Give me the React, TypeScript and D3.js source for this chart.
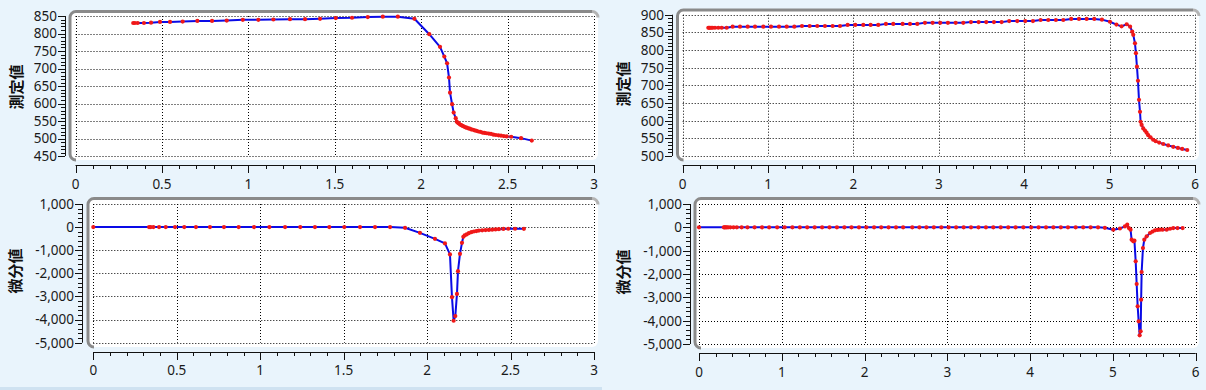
import * as d3 from 'd3'

type Pt = [number, number]

// 左側 測定値
const leftMeas: Pt[] = [
  [0.334, 830], [0.344, 830], [0.360, 830], [0.396, 830], [0.437, 831],
  [0.489, 833], [0.547, 833], [0.620, 834], [0.705, 836], [0.790, 836],
  [0.875, 837], [0.968, 839], [1.058, 839], [1.145, 840], [1.241, 841],
  [1.328, 841], [1.415, 842], [1.506, 844], [1.600, 845], [1.691, 847],
  [1.778, 848], [1.865, 848], [1.961, 842], [2.047, 798], [2.109, 762],
  [2.134, 734], [2.150, 715], [2.161, 674], [2.167, 631], [2.179, 598],
  [2.188, 574], [2.200, 558], [2.206, 548], [2.212, 545], [2.218, 543],
  [2.225, 540], [2.232, 538], [2.240, 536], [2.248, 534], [2.256, 532],
  [2.264, 531], [2.272, 529], [2.281, 528], [2.290, 526], [2.300, 525],
  [2.310, 523], [2.320, 522], [2.331, 520], [2.342, 519], [2.354, 517],
  [2.366, 516], [2.378, 515], [2.391, 514], [2.404, 513], [2.418, 511],
  [2.432, 510], [2.447, 509], [2.462, 508], [2.478, 507], [2.495, 506],
  [2.521, 505], [2.578, 501], [2.640, 494],
]

// 左側 微分値
const leftDiff: Pt[] = [
  [0, 0], [0.334, 0], [0.344, 0], [0.360, 0], [0.394, 0], [0.434, 0],
  [0.490, 0], [0.545, 0], [0.615, 0], [0.699, 0], [0.783, 0], [0.871, 0],
  [0.963, 0], [1.055, 0], [1.149, 0], [1.240, 0], [1.328, 0], [1.414, 0],
  [1.504, 0], [1.598, 0], [1.688, 0], [1.778, 0], [1.868, -30], [1.957, -247],
  [2.047, -506], [2.107, -706], [2.137, -1182], [2.149, -3030], [2.159, -4050],
  [2.169, -3850], [2.179, -2890], [2.185, -1905], [2.197, -1156], [2.209, -680],
  [2.217, -420], [2.225, -360], [2.237, -316], [2.250, -260], [2.265, -220],
  [2.280, -190], [2.295, -170], [2.310, -150], [2.330, -140], [2.350, -130],
  [2.370, -120], [2.390, -110], [2.410, -100], [2.430, -90], [2.457, -80],
  [2.486, -70], [2.527, -70], [2.580, -74],
]

// 右側 測定値
const rightMeas: Pt[] = [
  [0.300, 863], [0.310, 863], [0.320, 863], [0.335, 863], [0.351, 863],
  [0.378, 863], [0.417, 863], [0.457, 863], [0.515, 863], [0.585, 866],
  [0.671, 866], [0.761, 866], [0.847, 866], [0.944, 866], [1.034, 866],
  [1.128, 866], [1.218, 866], [1.307, 866], [1.397, 868], [1.487, 868],
  [1.576, 868], [1.666, 868], [1.756, 868], [1.842, 868], [1.932, 871],
  [2.021, 871], [2.115, 871], [2.201, 871], [2.290, 871], [2.380, 874],
  [2.466, 874], [2.576, 874], [2.662, 874], [2.747, 874], [2.837, 877],
  [2.927, 877], [3.016, 877], [3.106, 877], [3.197, 877], [3.286, 877],
  [3.376, 879], [3.466, 879], [3.555, 879], [3.645, 879], [3.735, 879],
  [3.824, 882], [3.918, 882], [4.012, 882], [4.102, 882], [4.192, 885],
  [4.281, 885], [4.371, 885], [4.457, 885], [4.550, 888], [4.641, 888],
  [4.731, 888], [4.820, 888], [4.910, 886], [5.004, 880], [5.080, 872],
  [5.140, 867], [5.200, 873], [5.240, 866], [5.265, 852], [5.277, 843],
  [5.297, 819], [5.308, 791], [5.320, 753], [5.332, 713], [5.344, 659],
  [5.356, 625], [5.363, 597], [5.375, 588], [5.394, 578], [5.414, 572],
  [5.433, 566], [5.452, 559], [5.479, 553], [5.510, 546], [5.540, 542],
  [5.580, 538], [5.628, 534], [5.686, 530], [5.745, 526], [5.800, 523],
  [5.850, 520], [5.909, 517],
]

// 右側 微分値
const rightDiff: Pt[] = [
  [0, 0], [0.300, 0], [0.310, 0], [0.320, 0], [0.335, 0], [0.351, 0],
  [0.378, 0], [0.417, 0], [0.457, 0], [0.515, 0], [0.585, 0], [0.671, 0],
  [0.761, 0], [0.847, 0], [0.944, 0], [1.034, 0], [1.128, 0], [1.218, 0],
  [1.307, 0], [1.397, 0], [1.487, 0], [1.576, 0], [1.666, 0], [1.756, 0],
  [1.842, 0], [1.932, 0], [2.021, 0], [2.115, 0], [2.201, 0], [2.290, 0],
  [2.380, 0], [2.466, 0], [2.576, 0], [2.662, 0], [2.747, 0], [2.837, 0],
  [2.927, 0], [3.016, 0], [3.106, 0], [3.197, 0], [3.286, 0], [3.376, 0],
  [3.466, 0], [3.555, 0], [3.645, 0], [3.735, 0], [3.824, 0], [3.918, 0],
  [4.012, 0], [4.102, 0], [4.192, 0], [4.281, 0], [4.371, 0], [4.457, 0],
  [4.550, 0], [4.641, 0], [4.731, 0], [4.820, 0], [4.903, -20], [5.004, -100],
  [5.085, -50], [5.145, 40], [5.173, 115], [5.193, -30], [5.213, -100],
  [5.226, -530], [5.246, -600], [5.260, -570], [5.275, -1457], [5.287, -2428],
  [5.299, -3386], [5.311, -4030], [5.323, -4630], [5.335, -4457], [5.341, -3100],
  [5.347, -1914], [5.363, -886], [5.379, -530], [5.408, -386], [5.448, -243],
  [5.478, -180], [5.508, -130], [5.540, -110], [5.568, -100], [5.600, -100],
  [5.649, -100], [5.690, -60], [5.729, -30], [5.780, -30], [5.842, -30],
]

// 目盛
const xTicks3 = [0, 0.5, 1, 1.5, 2, 2.5, 3]
const xTicks6 = [0, 1, 2, 3, 4, 5, 6]
const yTicksLeftMeas = [450, 500, 550, 600, 650, 700, 750, 800, 850]
const yTicksRightMeas = [500, 550, 600, 650, 700, 750, 800, 850, 900]
const yTicksDiff = [-5000, -4000, -3000, -2000, -1000, 0, 1000]

const titleMeas = '測定値'
const titleDiff = '微分値'

const numFmt = d3
  .formatLocale({ decimal: '.', thousands: ',', grouping: [3], currency: ['', ''], minus: '-' })
  .format(',')

const TICK_FONT = '"Noto Sans", "Open Sans", sans-serif'
const CJK_FONT = '"Noto Sans CJK JP", "Noto Sans CJK SC", sans-serif'

interface Frame { x0: number; y0: number; x1: number; y1: number }

interface PanelProps {
  data: Pt[]
  xDomain: [number, number]
  xRange: [number, number]
  yDomain: [number, number]
  yRange: [number, number]
  xTicks: number[]
  xMinor: number
  yTicks: number[]
  yMinor: number
  frame: Frame
  yAxisX: number
  xAxisY: number
  xLabelY: number
  title: string
  titleX: number
  titleY: number
}

const minorTicks = (domain: [number, number], step: number) => {
  const n = Math.round((domain[1] - domain[0]) / step)
  return d3.range(n + 1).map(i => domain[0] + i * step)
}

const Panel = (p: PanelProps) => {
  const x = d3.scaleLinear().domain(p.xDomain).range(p.xRange)
  const y = d3.scaleLinear().domain(p.yDomain).range(p.yRange)
  const line = d3.line<Pt>().x(d => x(d[0])).y(d => y(d[1]))
  const { x0, y0, x1, y1 } = p.frame
  const r = 6
  // left + top bevel of the plot frame
  const border = `M${x0 + r},${y1} A${r},${r} 0 0 1 ${x0},${y1 - r} L${x0},${y0 + r} A${r},${r} 0 0 1 ${x0 + r},${y0} L${x1 - r},${y0}`
  const corner = `M${x1 - r},${y0} A${r},${r} 0 0 1 ${x1},${y0 + r}`
  const yTop = y(p.yDomain[1])
  const yBot = y(p.yDomain[0])
  const xL = x(p.xDomain[0])
  const xR = x(p.xDomain[1])

  return (
    <g>
      <rect x={x0} y={y0} width={x1 - x0} height={y1 - y0} rx={r} fill="#ffffff" />
      {/* grid */}
      <g stroke="#000" strokeWidth={1} strokeDasharray="1 2" fill="none">
        {p.xTicks.map(t => (
          <line key={'gx' + t} x1={Math.round(x(t)) + 0.5} x2={Math.round(x(t)) + 0.5} y1={yTop} y2={yBot} />
        ))}
        {p.yTicks.map(t => (
          <line key={'gy' + t} x1={xL} x2={xR} y1={Math.round(y(t)) + 0.5} y2={Math.round(y(t)) + 0.5} />
        ))}
      </g>
      <path d={border} fill="none" stroke="#8a8a8a" strokeWidth={3} />
      <path d={corner} fill="none" stroke="#b4b4b4" strokeWidth={3} />
      {/* series */}
      <path d={line(p.data) || ''} fill="none" stroke="#0a0ae6" strokeWidth={2} strokeLinejoin="round" />
      <g fill="#f01818">
        {p.data.map((d, i) => (
          <circle key={i} cx={x(d[0])} cy={y(d[1])} r={2.1} />
        ))}
      </g>
      {/* x axis */}
      <g stroke="#111" strokeWidth={1}>
        <line x1={xL} x2={xR} y1={p.xAxisY + 0.5} y2={p.xAxisY + 0.5} />
        {minorTicks(p.xDomain, p.xMinor).map(t => (
          <line key={'xm' + t} x1={Math.round(x(t)) + 0.5} x2={Math.round(x(t)) + 0.5} y1={p.xAxisY} y2={p.xAxisY + 4} />
        ))}
        {p.xTicks.map(t => (
          <line key={'xM' + t} x1={Math.round(x(t)) + 0.5} x2={Math.round(x(t)) + 0.5} y1={p.xAxisY} y2={p.xAxisY + 8} />
        ))}
      </g>
      <g fontFamily={TICK_FONT} fontSize={13.5} fill="#1a1a1a" textAnchor="middle">
        {p.xTicks.map(t => (
          <text key={'xl' + t} x={x(t)} y={p.xLabelY}>{String(t)}</text>
        ))}
      </g>
      {/* y axis */}
      <g stroke="#111" strokeWidth={1}>
        <line x1={p.yAxisX + 0.5} x2={p.yAxisX + 0.5} y1={yTop} y2={yBot} />
        {minorTicks(p.yDomain, p.yMinor).map(t => (
          <line key={'ym' + t} x1={p.yAxisX - 4} x2={p.yAxisX} y1={Math.round(y(t)) + 0.5} y2={Math.round(y(t)) + 0.5} />
        ))}
        {p.yTicks.map(t => (
          <line key={'yM' + t} x1={p.yAxisX - 7} x2={p.yAxisX} y1={Math.round(y(t)) + 0.5} y2={Math.round(y(t)) + 0.5} />
        ))}
      </g>
      <g fontFamily={TICK_FONT} fontSize={13.5} fill="#1a1a1a" textAnchor="end">
        {p.yTicks.map(t => (
          <text key={'yl' + t} x={p.yAxisX - 8} y={y(t)} dy="0.36em">{numFmt(t)}</text>
        ))}
      </g>
      <text
        transform={`translate(${p.titleX},${p.titleY}) rotate(-90)`}
        textAnchor="middle"
        dy="0.36em"
        fontFamily={CJK_FONT}
        fontWeight="bold"
        fontSize={15}
        fill="#111"
      >
        {p.title}
      </text>
    </g>
  )
}

export default function App() {
  return (
    <svg
      width={1206}
      height={390}
      style={{ position: 'absolute', left: 0, top: 0, display: 'block' }}
    >
      <rect x={0} y={0} width={1206} height={390} fill="#e9f4fc" />
      <rect x={0} y={387} width={602} height={3} fill="#cfe2f1" />
      <Panel
        data={leftMeas}
        xDomain={[0, 3]} xRange={[75.5, 594]}
        yDomain={[450, 850]} yRange={[156, 16]}
        xTicks={xTicks3} xMinor={0.1}
        yTicks={yTicksLeftMeas} yMinor={10}
        frame={{ x0: 70, y0: 11.5, x1: 598, y1: 160 }}
        yAxisX={65} xAxisY={165} xLabelY={188.5}
        title={titleMeas} titleX={17} titleY={87}
      />
      <Panel
        data={leftDiff}
        xDomain={[0, 3]} xRange={[93.3, 594]}
        yDomain={[-5000, 1000]} yRange={[342.7, 204]}
        xTicks={xTicks3} xMinor={0.1}
        yTicks={yTicksDiff} yMinor={200}
        frame={{ x0: 88, y0: 198.5, x1: 598, y1: 347 }}
        yAxisX={82} xAxisY={352} xLabelY={374.5}
        title={titleDiff} titleX={16} titleY={271}
      />
      <Panel
        data={rightMeas}
        xDomain={[0, 6]} xRange={[682.7, 1195]}
        yDomain={[500, 900]} yRange={[156, 14.7]}
        xTicks={xTicks6} xMinor={0.2}
        yTicks={yTicksRightMeas} yMinor={10}
        frame={{ x0: 677.5, y0: 10, x1: 1199, y1: 160 }}
        yAxisX={672} xAxisY={165} xLabelY={188.5}
        title={titleMeas} titleX={624} titleY={84}
      />
      <Panel
        data={rightDiff}
        xDomain={[0, 6]} xRange={[699, 1195.7]}
        yDomain={[-5000, 1000]} yRange={[344, 204]}
        xTicks={xTicks6} xMinor={0.2}
        yTicks={yTicksDiff} yMinor={200}
        frame={{ x0: 695, y0: 198.5, x1: 1199, y1: 348 }}
        yAxisX={690} xAxisY={353} xLabelY={376.5}
        title={titleDiff} titleX={624} titleY={272}
      />
    </svg>
  )
}
